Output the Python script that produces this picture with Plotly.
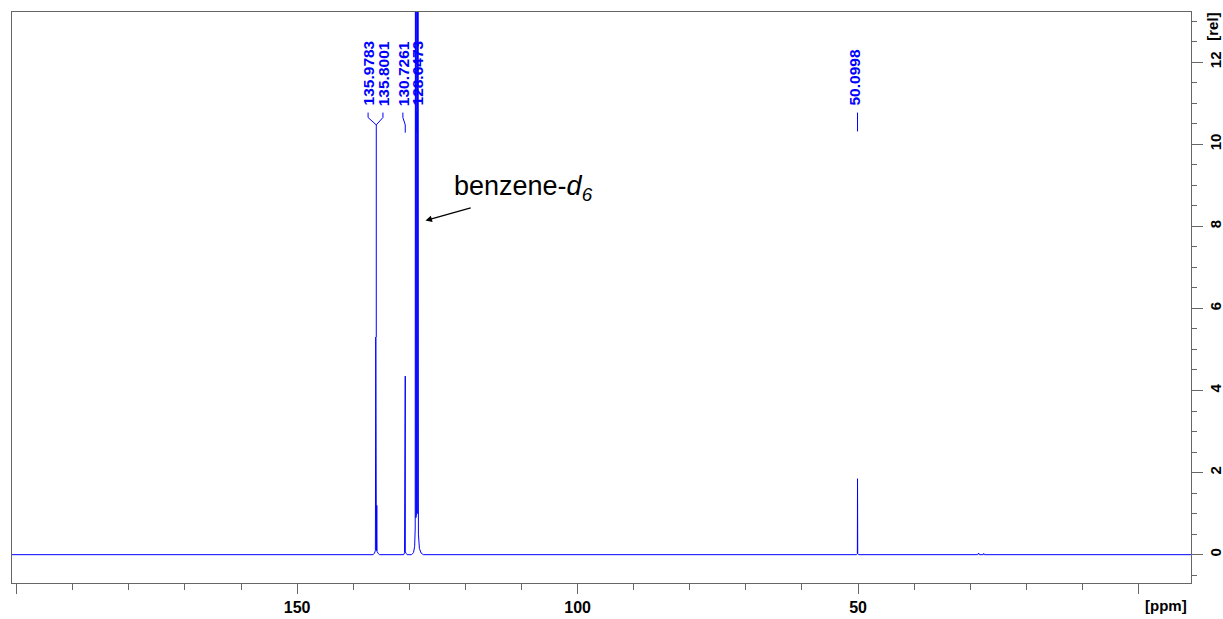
import plotly.graph_objects as go

# 13C spectrum, hand-read polyline (ppm, relative intensity)
ppm = [
    200.83,
    136.45, 136.20, 136.05, 135.9783, 135.93, 135.87, 135.8001, 135.75, 135.55, 135.30,
    131.00, 130.85, 130.7261, 130.715, 130.705, 130.68, 130.55, 130.40,
    129.60, 129.25, 129.05, 128.95, 128.89, 128.84, 128.70, 128.6473, 128.60, 128.45,
    128.38, 128.20, 127.90, 127.50,
    50.30, 50.13, 50.0998, 50.092, 50.085, 50.06, 49.90,
    28.70, 28.50, 28.40, 27.70, 27.60, 27.50,
    -9.35,
]
intensity = [
    0.0,
    0.0, 0.04, 0.10, 5.30, 0.12, 0.10, 1.20, 0.08, 0.03, 0.0,
    0.0, 0.05, 4.35, 0.05, 2.30, 0.06, 0.03, 0.0,
    0.0, 0.05, 0.20, 0.65, 30.0, 0.90, 1.00, 30.0, 1.00, 30.0,
    0.50, 0.15, 0.04, 0.0,
    0.0, 0.02, 1.85, 0.02, 0.95, 0.02, 0.0,
    0.0, 0.04, 0.0, 0.0, 0.03, 0.0,
    0.0,
]

# Picked peaks and their printed shifts
peak_ppm = [135.9783, 135.8001, 130.7261, 128.6473, 50.0998]
peak_text = ["135.9783", "135.8001", "130.7261", "128.6473", "50.0998"]

x_ticks = [200, 150, 100, 50, 0]
x_tick_text = ["", "150", "100", "50", ""]
y_ticks = [0, 2, 4, 6, 8, 10, 12]

BLUE = "#0000ff"
FRAME = "#666666"

# label placement along the ppm axis (spread to avoid overlap)
label_x = [137.35, 134.70, 131.15, 128.60, 50.60]
LABEL_Y = 10.91
TOP_Y, KNEE_Y, JOIN_Y, END_Y = 10.77, 10.65, 10.47, 10.28

fig = go.Figure()
fig.add_trace(go.Scatter(
    x=ppm, y=intensity, mode="lines",
    line=dict(color=BLUE, width=1), hoverinfo="skip", showlegend=False,
))

# leader lines from the peak labels
def leader(xs, ys):
    fig.add_trace(go.Scatter(
        x=xs, y=ys, mode="lines", line=dict(color=BLUE, width=1),
        hoverinfo="skip", showlegend=False,
    ))

join_x = (peak_ppm[0] + peak_ppm[1]) / 2
leader([label_x[0], label_x[0], join_x], [TOP_Y, KNEE_Y, JOIN_Y])
leader([label_x[1], label_x[1], join_x], [TOP_Y, KNEE_Y, JOIN_Y])
leader([join_x, join_x], [JOIN_Y, max(intensity[4], intensity[7])])
leader([label_x[2], label_x[2], peak_ppm[2], peak_ppm[2]], [TOP_Y, KNEE_Y, JOIN_Y, END_Y])
leader([peak_ppm[3], peak_ppm[3]], [TOP_Y, END_Y])
leader([peak_ppm[4], peak_ppm[4]], [TOP_Y, 10.31])

annotations = []
for lx, txt in zip(label_x, peak_text):
    annotations.append(dict(
        x=lx, y=LABEL_Y, xref="x", yref="y", text=txt, textangle=-90,
        showarrow=False, xanchor="center", yanchor="bottom",
        font=dict(family="Liberation Sans", size=15.5, color=BLUE, weight="bold"),
        borderpad=0,
    ))

# solvent annotation with arrow
annotations.append(dict(
    x=127.12, y=8.14, xref="x", yref="y", text="", showarrow=True,
    ax=46.7, ay=-13, arrowhead=2, arrowsize=1, arrowwidth=1.3,
    arrowcolor="black", standoff=0, startstandoff=0,
))
annotations.append(dict(
    x=122.4, y=8.93, xref="x", yref="y",
    text="benzene-<i>d</i><sub><i>6</i></sub>", showarrow=False,
    xanchor="left", yanchor="middle",
    font=dict(family="Liberation Sans", size=27, color="black"),
))

# axis unit labels
annotations.append(dict(
    x=0.979, y=-0.040, xref="paper", yref="paper", text="[ppm]",
    showarrow=False, xanchor="center", yanchor="middle",
    font=dict(family="Liberation Sans", size=15, color="black", weight="bold"),
))
annotations.append(dict(
    x=1.0176, y=0.9737, xref="paper", yref="paper", text="[rel]", textangle=-90,
    showarrow=False, xanchor="center", yanchor="middle",
    font=dict(family="Liberation Sans", size=15, color="black", weight="bold"),
))

fig.update_layout(
    width=1223, height=619,
    margin=dict(l=12, r=32, t=12, b=36, autoexpand=False),
    paper_bgcolor="white", plot_bgcolor="white",
    annotations=annotations,
    showlegend=False,
)
fig.update_xaxes(
    range=[200.83, -9.35], showgrid=False, zeroline=False,
    showline=True, linecolor=FRAME, linewidth=1, mirror=True,
    tickmode="array", tickvals=x_ticks, ticktext=x_tick_text,
    ticks="outside", ticklen=10, tickcolor=FRAME, tickwidth=1,
    minor=dict(dtick=10, tick0=0, ticks="outside", ticklen=6, tickcolor=FRAME, showgrid=False),
    tickfont=dict(family="Liberation Sans", size=16, color="black", weight="bold"),
)
fig.update_yaxes(
    range=[-0.69, 13.22], side="right", showgrid=False, zeroline=False,
    showline=True, linecolor=FRAME, linewidth=1, mirror=True,
    tickmode="array", tickvals=y_ticks, ticktext=[str(v) for v in y_ticks],
    ticks="outside", ticklen=11, tickcolor=FRAME, tickwidth=1, tickangle=-90,
    minor=dict(dtick=0.5, tick0=0, ticks="outside", ticklen=5, tickcolor=FRAME, showgrid=False),
    tickfont=dict(family="Liberation Sans", size=15, color="black", weight="bold"),
)

fig.write_html("out.html")
